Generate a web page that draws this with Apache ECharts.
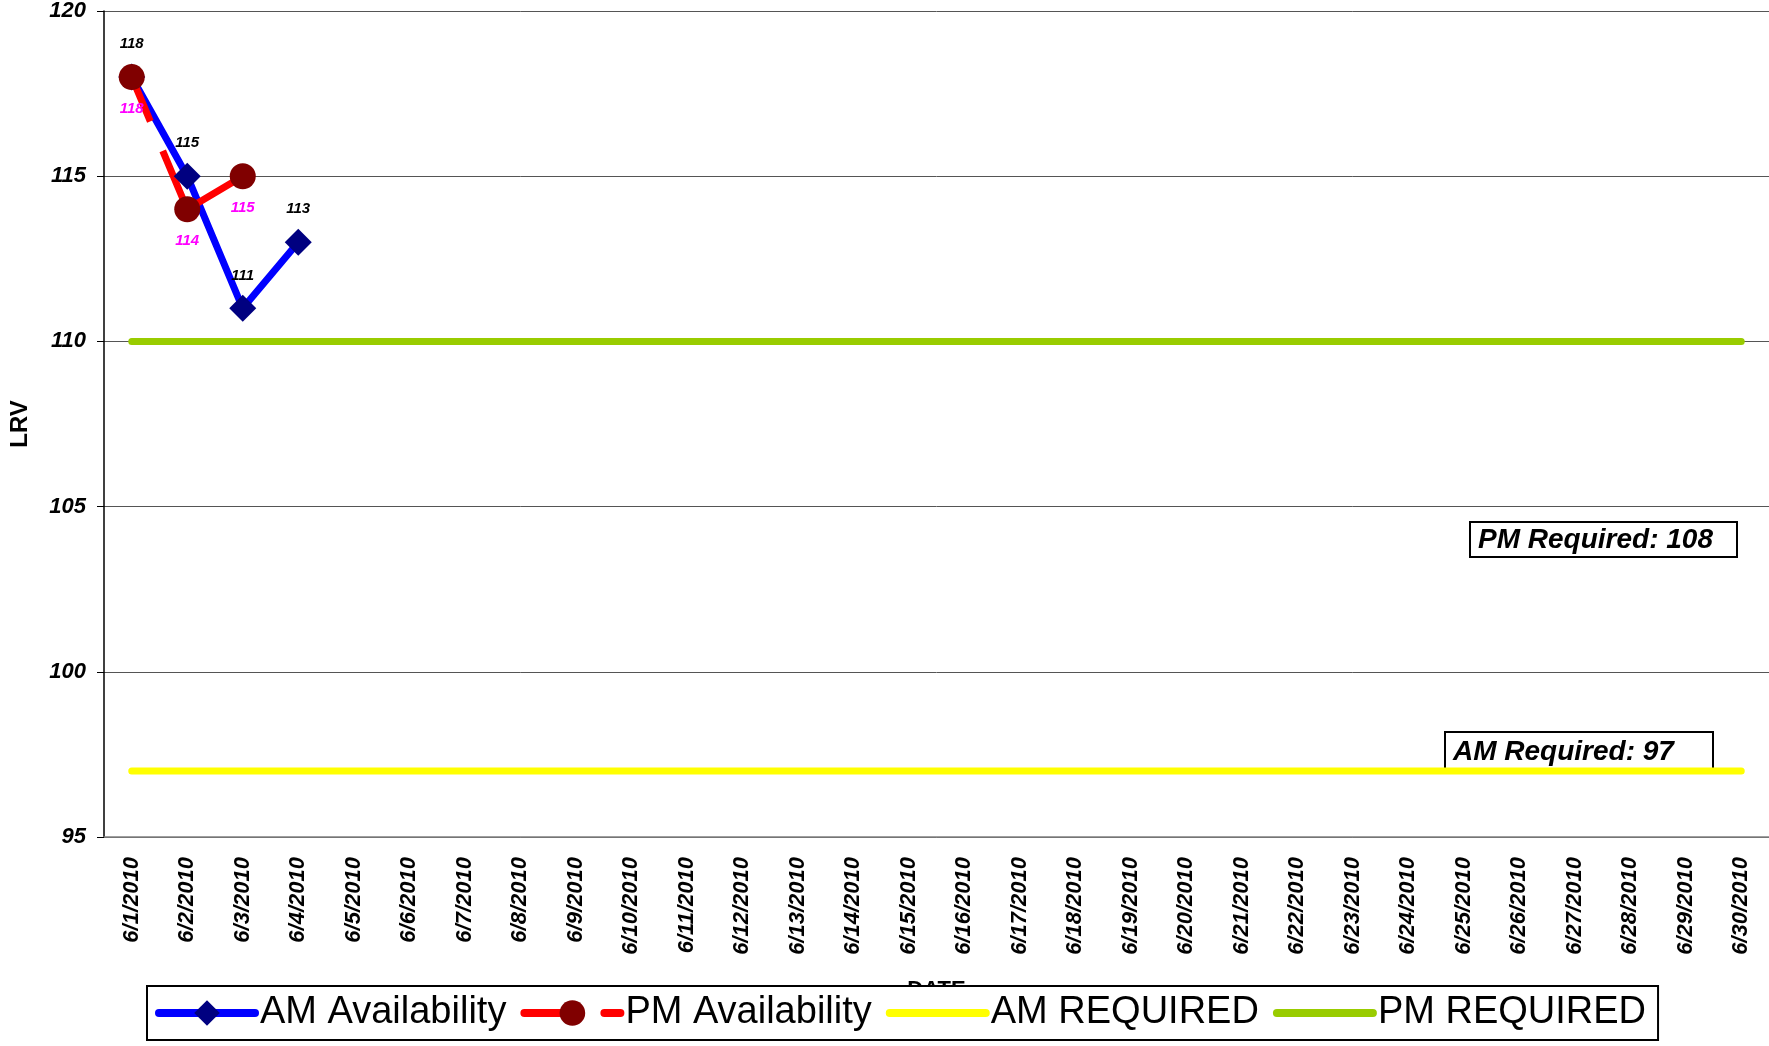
<!DOCTYPE html>
<html>
<head>
<meta charset="utf-8">
<script src="https://cdn.jsdelivr.net/npm/echarts@6/dist/echarts.min.js"></script>
<style>
  html, body { margin: 0; padding: 0; background: #fff; }
  #chart { width: 1769px; height: 1046px; }
</style>
</head>
<body>
<div id="chart"></div>
<script>
// 日期类目
const dates = [
  '6/1/2010', '6/2/2010', '6/3/2010', '6/4/2010', '6/5/2010', '6/6/2010',
  '6/7/2010', '6/8/2010', '6/9/2010', '6/10/2010', '6/11/2010', '6/12/2010',
  '6/13/2010', '6/14/2010', '6/15/2010', '6/16/2010', '6/17/2010', '6/18/2010',
  '6/19/2010', '6/20/2010', '6/21/2010', '6/22/2010', '6/23/2010', '6/24/2010',
  '6/25/2010', '6/26/2010', '6/27/2010', '6/28/2010', '6/29/2010', '6/30/2010'
]
// 上午 / 下午可用量
const amAvailability = [118, 115, 111, 113]
const pmAvailability = [118, 114, 115]
// 要求线
const amRequired = [97, 97, 97, 97, 97, 97, 97, 97, 97, 97, 97, 97, 97, 97, 97,
  97, 97, 97, 97, 97, 97, 97, 97, 97, 97, 97, 97, 97, 97, 97]
const pmRequired = [110, 110, 110, 110, 110, 110, 110, 110, 110, 110, 110, 110, 110, 110, 110,
  110, 110, 110, 110, 110, 110, 110, 110, 110, 110, 110, 110, 110, 110, 110]
// 注释文字
const pmNote = 'PM Required: 108'
const amNote = 'AM Required: 97'

const font = 'Liberation Sans, Arial, sans-serif'

const chart = echarts.init(document.getElementById('chart'))

// 带边框的注释框
function noteBox(x, y, w, h, text) {
  return {
    type: 'group',
    x: x,
    y: y,
    z: 10,
    children: [
      {
        type: 'rect',
        shape: { x: 0, y: 0, width: w, height: h },
        style: { fill: '#fff', stroke: '#000', lineWidth: 2 }
      },
      {
        type: 'text',
        x: 8,
        y: h / 2 + 1,
        style: {
          text: text,
          font: 'italic bold 28px ' + font,
          fill: '#000',
          verticalAlign: 'middle'
        }
      }
    ]
  }
}

const option = {
  backgroundColor: '#fff',
  animation: false,
  textStyle: { fontFamily: font },
  grid: {
    left: 99,
    right: -2,
    top: 10,
    bottom: 209,
    containLabel: false
  },
  legend: {
    left: 147,
    top: 986,
    padding: [8, 12, 8, 8],
    itemWidth: 96,
    itemHeight: 32,
    itemGap: 14,
    borderColor: '#000',
    borderWidth: 2,
    backgroundColor: '#fff',
    lineStyle: { width: 8, cap: 'round' },
    textStyle: { fontSize: 38, color: '#000', fontFamily: font },
    data: [
      { name: 'AM Availability' },
      { name: 'PM Availability' },
      // 要求线图例不显示标记
      { name: 'AM REQUIRED', itemStyle: { opacity: 0 } },
      { name: 'PM REQUIRED', itemStyle: { opacity: 0 } }
    ]
  },
  xAxis: {
    type: 'category',
    data: dates,
    boundaryGap: true,
    name: 'DATE',
    nameLocation: 'middle',
    nameGap: 142,
    nameTextStyle: { fontSize: 22, fontWeight: 'bold', color: '#000', verticalAlign: 'top' },
    axisLine: { lineStyle: { color: '#808080', width: 1.5 } },
    axisTick: { show: false },
    axisLabel: {
      interval: 0,
      rotate: 90,
      margin: 20,
      fontSize: 22,
      fontWeight: 'bold',
      fontStyle: 'italic',
      color: '#000'
    },
    splitLine: { show: false }
  },
  yAxis: {
    type: 'value',
    min: 95,
    max: 120,
    interval: 5,
    name: 'LRV',
    nameLocation: 'middle',
    nameGap: 72,
    nameTextStyle: { fontSize: 24, fontWeight: 'bold', color: '#000' },
    axisLine: { show: true, lineStyle: { color: '#000', width: 1.5 } },
    axisTick: { show: true, length: 7, lineStyle: { color: '#000' } },
    axisLabel: {
      margin: 18,
      fontSize: 22,
      fontWeight: 'bold',
      fontStyle: 'italic',
      color: '#000'
    },
    splitLine: { show: true, lineStyle: { color: '#555', width: 1 } }
  },
  series: [
    {
      name: 'AM Availability',
      type: 'line',
      data: amAvailability,
      symbol: 'diamond',
      symbolSize: 27,
      itemStyle: { color: '#000080' },
      lineStyle: { color: '#0000FF', width: 7 },
      label: {
        show: true,
        position: 'top',
        distance: 12,
        fontSize: 15,
        fontWeight: 'bold',
        fontStyle: 'italic',
        color: '#000'
      }
    },
    {
      name: 'PM Availability',
      type: 'line',
      data: pmAvailability,
      symbol: 'circle',
      symbolSize: 26,
      itemStyle: { color: '#800000' },
      lineStyle: { color: '#FF0000', width: 7, type: [48, 32, 400] },
      label: {
        show: true,
        position: 'bottom',
        distance: 11,
        fontSize: 15,
        fontWeight: 'bold',
        fontStyle: 'italic',
        color: '#FF00FF'
      }
    },
    {
      name: 'AM REQUIRED',
      type: 'line',
      data: amRequired,
      symbol: 'none',
      itemStyle: { color: '#FFFF00' },
      lineStyle: { color: '#FFFF00', width: 7, cap: 'round' }
    },
    {
      name: 'PM REQUIRED',
      type: 'line',
      data: pmRequired,
      symbol: 'none',
      itemStyle: { color: '#99CC00' },
      lineStyle: { color: '#99CC00', width: 7, cap: 'round' }
    }
  ],
  graphic: [
    noteBox(1470, 522, 267, 35, pmNote),
    noteBox(1445, 732, 268, 39, amNote)
  ]
}

chart.setOption(option)
</script>
</body>
</html>
